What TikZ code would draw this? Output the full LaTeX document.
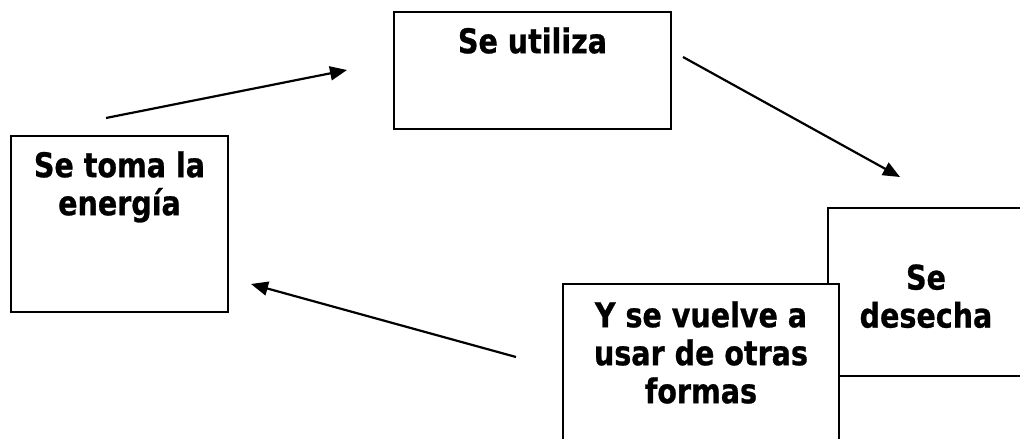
\documentclass[tikz,border=0pt]{standalone}
\usepackage{fontspec}
\setmainfont{DejaVu Sans}[FakeStretch=0.84, BoldFeatures={FakeBold=0.8}]
\usetikzlibrary{positioning,arrows.meta}

\tikzset{
  card/.style={draw, fill=white, line width=1.7pt, inner sep=0pt},
  cardtext/.style={inner sep=0pt, align=center, font=\fontsize{34pt}{38pt}\selectfont\bfseries}
}

\begin{document}
\begin{tikzpicture}[x=1pt, y=-1pt, >={Triangle[length=17pt, width=14pt]}]
  \useasboundingbox (0,0) rectangle (1020,439);
  \clip (0,0) rectangle (1020,439);

  % Boxes
  \node[card, minimum width=217pt, minimum height=176pt] (toma) at (119.5,224) {};
  \node[card, minimum width=277pt, minimum height=117pt] (utiliza) at (532.5,70.5) {};
  \node[card, minimum width=196pt, minimum height=168pt] (desecha) at (926,292) {};
  \node[card, minimum width=276pt, minimum height=180pt] (vuelve) at (701,374) {};

  % Texts
  \node[cardtext, below=16pt of toma.north] (tomatxt) {Se toma la\\energía};
  \node[cardtext, below=16pt of utiliza.north] (utilizatxt) {Se utiliza};
  \node[cardtext, below=57pt of desecha.north] (desechatxt) {Se\\desecha};
  \node[cardtext, below=18pt of vuelve.north] (vuelvetxt) {Y se vuelve a\\usar de otras\\formas};

  % Arrows
  \coordinate (a1s) at (106,118);
  \coordinate (a1e) at (347,70);
  \coordinate (a2s) at (683,57);
  \coordinate (a2e) at (900,177);
  \coordinate (a3s) at (516,357);
  \coordinate (a3e) at (251,284);
  \draw[->, line width=2.2pt] (a1s) -- (a1e);
  \draw[->, line width=2.2pt] (a2s) -- (a2e);
  \draw[->, line width=2.2pt] (a3s) -- (a3e);
\end{tikzpicture}
\end{document}
